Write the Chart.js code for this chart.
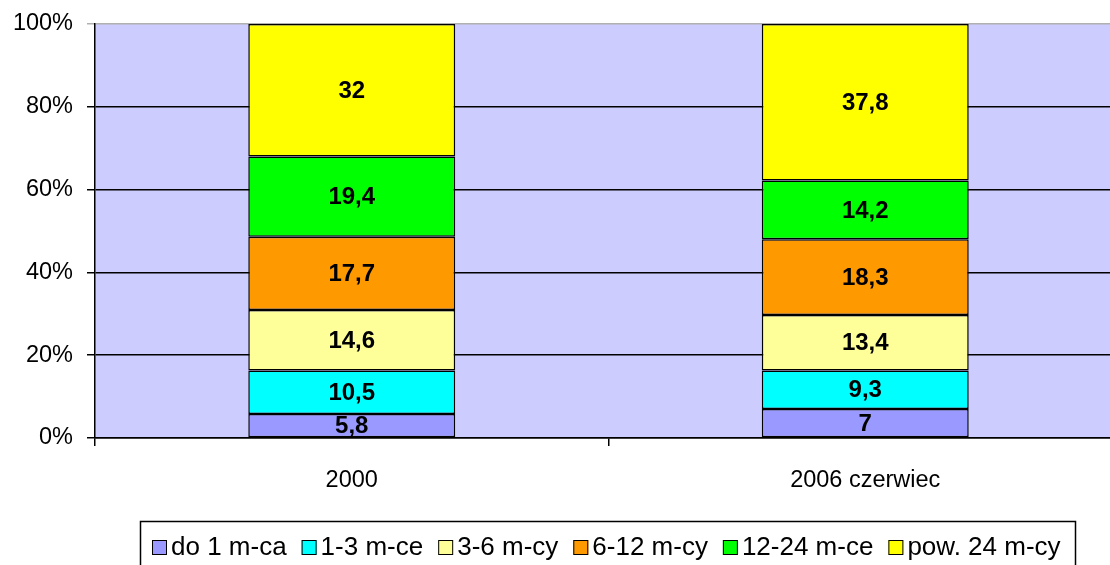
<!DOCTYPE html>
<html>
<head>
<meta charset="utf-8">
<script src="https://cdn.jsdelivr.net/npm/chart.js@4.4.0/dist/chart.umd.min.js"></script>
<style>
  html, body { margin: 0; padding: 0; background: #fff; }
  #wrap { width: 1110px; height: 565px; position: relative; overflow: hidden; }
</style>
</head>
<body>
<div id="wrap"><canvas id="chart" width="1122" height="565"></canvas></div>
<script>
// Categories and series (percent shares)
const categories = ['2000', '2006 czerwiec'];
const seriesNames = ['do 1 m-ca', '1-3 m-ce', '3-6 m-cy', '6-12 m-cy', '12-24 m-ce', 'pow. 24 m-cy'];
const do1 = [5.8, 7];
const m1_3 = [10.5, 9.3];
const m3_6 = [14.6, 13.4];
const m6_12 = [17.7, 18.3];
const m12_24 = [19.4, 14.2];
const pow24 = [32, 37.8];
const yTicks = [0, 20, 40, 60, 80, 100];

const colors = ['#9999FF', '#00FFFF', '#FFFF99', '#FF9900', '#00FF00', '#FFFF00'];
const seriesData = [do1, m1_3, m3_6, m6_12, m12_24, pow24];

// Plot area background
const plotBg = {
  id: 'plotBg',
  beforeDraw(chart) {
    const { ctx, chartArea: a } = chart;
    ctx.save();
    ctx.fillStyle = '#CCCCFF';
    ctx.fillRect(a.left, a.top, a.right - a.left, a.bottom - a.top);
    ctx.restore();
  }
};

// Value labels in the middle of each segment
const valueLabels = {
  id: 'valueLabels',
  afterDatasetsDraw(chart) {
    const ctx = chart.ctx;
    ctx.save();
    ctx.font = 'bold 24px "Liberation Sans", Arial, sans-serif';
    ctx.fillStyle = '#000';
    ctx.textAlign = 'center';
    ctx.textBaseline = 'middle';
    chart.data.datasets.forEach((ds, i) => {
      chart.getDatasetMeta(i).data.forEach((bar, j) => {
        const y = (bar.y + bar.base) / 2;
        ctx.fillText(String(ds.data[j]).replace('.', ','), bar.x, y + 1);
      });
    });
    ctx.restore();
  }
};

// Boxed legend at the bottom
const boxLegend = {
  id: 'boxLegend',
  afterDraw(chart) {
    const ctx = chart.ctx;
    ctx.save();
    ctx.strokeStyle = '#000';
    ctx.lineWidth = 1.5;
    ctx.strokeRect(140.5, 521.5, 935, 60);
    ctx.font = '26px "Liberation Sans", Arial, sans-serif';
    ctx.textBaseline = 'middle';
    let x = 152;
    const y = 547;
    chart.data.datasets.forEach(ds => {
      ctx.fillStyle = ds.backgroundColor;
      ctx.fillRect(x, y - 7, 15, 15);
      ctx.lineWidth = 1;
      ctx.strokeRect(x + 0.5, y - 6.5, 14, 14);
      ctx.fillStyle = '#000';
      ctx.fillText(ds.label, x + 19, y + 1);
      x += 19 + ctx.measureText(ds.label).width + 15;
    });
    ctx.restore();
  }
};

const datasets = seriesNames.map((name, i) => ({
  label: name,
  data: seriesData[i],
  backgroundColor: colors[i],
  borderColor: '#000',
  borderWidth: 1.5,
  borderSkipped: false,
  categoryPercentage: 1,
  barPercentage: 0.403
}));

new Chart(document.getElementById('chart'), {
  type: 'bar',
  data: { labels: categories, datasets: datasets },
  plugins: [plotBg, valueLabels, boxLegend],
  options: {
    responsive: false,
    animation: false,
    layout: { padding: { top: 24, right: 0, left: 0, bottom: 0 } },
    plugins: {
      legend: { display: false },
      tooltip: { enabled: false }
    },
    scales: {
      x: {
        stacked: true,
        grid: {
          offset: true,
          drawOnChartArea: false,
          drawTicks: true,
          tickLength: 8,
          color: '#000',
          lineWidth: 1.5
        },
        border: { color: '#000', width: 1.5 },
        ticks: {
          color: '#000',
          padding: 20,
          font: { family: '"Liberation Sans", Arial, sans-serif', size: 23.5 }
        },
        afterFit(scale) { scale.height = 127; }
      },
      y: {
        stacked: true,
        min: 0,
        max: 100,
        afterBuildTicks(scale) { scale.ticks = yTicks.map(v => ({ value: v })); },
        grid: {
          color: ctx => (ctx.tick && ctx.tick.value === 100 ? '#B0B0B0' : '#000'),
          lineWidth: 1.5,
          tickLength: 8
        },
        border: { color: '#000', width: 1.5 },
        ticks: {
          color: '#000',
          padding: 14,
          font: { family: '"Liberation Sans", Arial, sans-serif', size: 23.5 },
          callback: v => v + '%'
        },
        afterFit(scale) {
          scale.width = 95;
          scale.paddingTop = 0;
          scale.paddingBottom = 0;
        }
      }
    }
  }
});
</script>
</body>
</html>
